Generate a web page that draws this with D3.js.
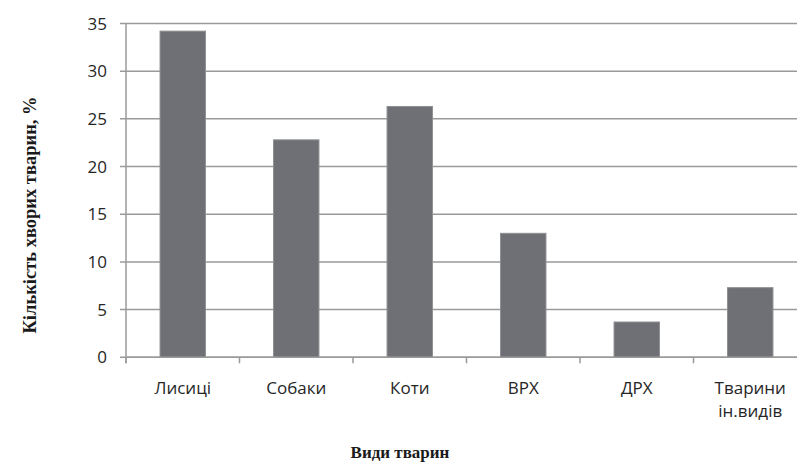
<!DOCTYPE html>
<html>
<head>
<meta charset="utf-8">
<script src="https://cdn.jsdelivr.net/npm/d3@7"></script>
<style>
  html, body { margin: 0; padding: 0; background: #fff; }
  svg { display: block; }
</style>
</head>
<body>
<svg id="chart" width="797" height="464"></svg>
<script>
// Share of sick animals by species, %
const categories = ["Лисиці", "Собаки", "Коти", "ВРХ", "ДРХ", "Тварини ін.видів"];
const values = [34.2, 22.8, 26.3, 13.0, 3.7, 7.3];
const yTicks = [0, 5, 10, 15, 20, 25, 30, 35];
const yTitle = "Кількість хворих тварин, %";
const xTitle = "Види тварин";

(function () {
const svg = d3.select("#chart");
const plotLeft = 126, plotRight = 807, plotTop = 23.5, plotBottom = 357.3;

const x = d3.scaleBand().domain(categories).range([plotLeft, plotRight]).paddingInner(0.6).paddingOuter(0.3);
const y = d3.scaleLinear().domain([0, 35]).range([plotBottom, plotTop]);

const gridColor = "#9a9a9a";
const tickFont = "'Open Sans', 'Noto Sans', sans-serif";

// horizontal gridlines with left tick stubs
svg.append("g")
  .selectAll("line")
  .data(yTicks)
  .join("line")
  .attr("x1", plotLeft - 6)
  .attr("x2", 797)
  .attr("y1", d => y(d))
  .attr("y2", d => y(d))
  .attr("stroke", gridColor)
  .attr("stroke-width", 1.5);

// bars
svg.append("g")
  .selectAll("rect")
  .data(values)
  .join("rect")
  .attr("x", (d, i) => x(categories[i]))
  .attr("width", x.bandwidth())
  .attr("y", d => y(d))
  .attr("height", d => y(0) - y(d))
  .attr("fill", "#6f7075")
  .attr("stroke", "#8e8f92")
  .attr("stroke-width", 1);

// y axis line
svg.append("line")
  .attr("x1", plotLeft).attr("x2", plotLeft)
  .attr("y1", plotTop).attr("y2", plotBottom + 6)
  .attr("stroke", gridColor).attr("stroke-width", 1.5);

// x axis line
svg.append("line")
  .attr("x1", plotLeft).attr("x2", 797)
  .attr("y1", plotBottom).attr("y2", plotBottom)
  .attr("stroke", gridColor).attr("stroke-width", 1.5);

// x category boundary ticks
const step = x.step();
const boundaries = d3.range(categories.length + 1).map(i => plotLeft + i * step);
svg.append("g")
  .selectAll("line")
  .data(boundaries)
  .join("line")
  .attr("x1", d => d).attr("x2", d => d)
  .attr("y1", plotBottom).attr("y2", plotBottom + 6)
  .attr("stroke", gridColor).attr("stroke-width", 1.5);

// y tick labels
svg.append("g")
  .selectAll("text")
  .data(yTicks)
  .join("text")
  .attr("x", 107)
  .attr("y", d => y(d))
  .attr("dy", "0.36em")
  .attr("text-anchor", "end")
  .attr("font-family", tickFont)
  .attr("font-size", 17)
  .attr("fill", "#262626")
  .text(d => d);

// x category labels (wrapped to two lines where needed)
const wrap = { "Тварини ін.видів": ["Тварини", "ін.видів"] };
svg.append("g")
  .selectAll("text")
  .data(categories)
  .join("text")
  .attr("x", d => x(d) + x.bandwidth() / 2)
  .attr("y", 393.5)
  .attr("text-anchor", "middle")
  .attr("font-family", tickFont)
  .attr("font-size", 17)
  .attr("fill", "#262626")
  .each(function (d) {
    const lines = wrap[d] || [d];
    d3.select(this).selectAll("tspan")
      .data(lines)
      .join("tspan")
      .attr("x", x(d) + x.bandwidth() / 2)
      .attr("dy", (l, i) => i === 0 ? 0 : 23.5)
      .text(l => l);
  });

// axis titles
svg.append("text")
  .attr("transform", "translate(36,215) rotate(-90)")
  .attr("text-anchor", "middle")
  .attr("font-family", "'Liberation Serif', 'Times New Roman', serif")
  .attr("font-weight", "bold")
  .attr("font-size", 18.5)
  .attr("fill", "#1a1a1a")
  .text(yTitle);

svg.append("text")
  .attr("x", 400)
  .attr("y", 458)
  .attr("text-anchor", "middle")
  .attr("font-family", "'Liberation Serif', 'Times New Roman', serif")
  .attr("font-weight", "bold")
  .attr("font-size", 17)
  .attr("fill", "#1a1a1a")
  .text(xTitle);
})();
</script>
</body>
</html>
